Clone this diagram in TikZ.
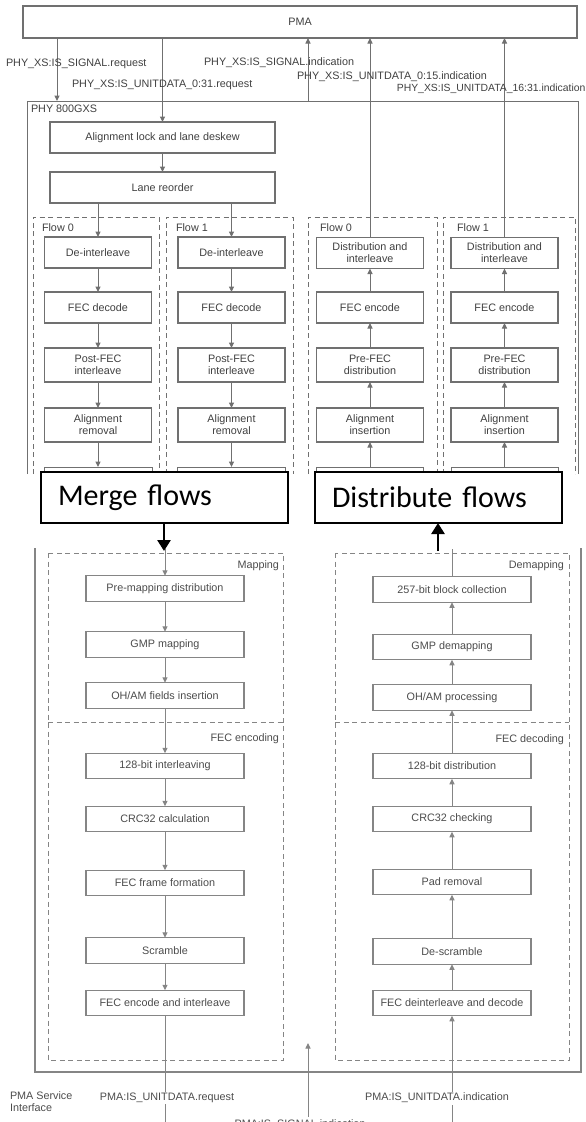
\documentclass[tikz,border=0pt]{standalone}
\usepackage{fontspec}
\setmainfont{Liberation Sans}
\newfontfamily\calibfont{Carlito}
\usetikzlibrary{arrows.meta}
\definecolor{ln}{HTML}{707070}
\definecolor{lnlow}{HTML}{858585}
\definecolor{tx}{HTML}{404040}
\definecolor{txlow}{HTML}{4C4C4C}
\begin{document}
\begin{tikzpicture}[x=1pt,y=-1pt,
  every node/.style={inner sep=0pt,outer sep=0pt},
  lbl/.style={font=\fontsize{10.8}{12}\selectfont,text=tx},
  lbllow/.style={font=\fontsize{10.8}{12}\selectfont,text=txlow},
  blk/.style={draw=ln,line width=1.2pt,fill=white,align=center,
    font=\fontsize{10.8}{12}\selectfont,text=tx},
  flowblk/.style={blk,minimum width=107pt,minimum height=31pt},
  tallblk/.style={blk,minimum width=107pt,minimum height=34pt},
  lowblk/.style={blk,draw=lnlow,text=txlow,minimum width=158pt,minimum height=25.5pt},
  conn/.style={draw=ln,line width=1pt,-{Triangle[length=5.5pt,width=5pt]}},
  connlow/.style={draw=lnlow,line width=1pt,-{Triangle[length=5.5pt,width=5pt]}},
  plain/.style={draw=ln,line width=1pt},
  plainlow/.style={draw=lnlow,line width=1.2pt},
  grp/.style={draw=ln,line width=1pt,dash pattern=on 5pt off 3.5pt},
  grplow/.style={draw=lnlow,line width=1pt,dash pattern=on 5pt off 3.5pt},
  bigbox/.style={draw=black,line width=1.6pt,fill=white,
    font=\calibfont\fontsize{30}{32}\selectfont,inner xsep=17pt,
    text width=213pt,align=left,minimum height=51pt},
  bigarrow/.style={draw=black,line width=2.6pt,-{Triangle[length=11pt,width=13pt]}}
]
\useasboundingbox (0,0) rectangle (586,1122);
\begin{scope}
\clip (0,0) rectangle (586,1122);

% ---------------- upper part: PMA and receive/transmit flows ----------------
\node[blk,minimum width=554pt,minimum height=32pt] (pma) at (300,22) {PMA};

% PHY 800GXS enclosure (continues below)
\draw[plain] (27,474) -- (27,101) -- (578,101) -- (578,474);
\node[lbl,anchor=west] (phyname) at (31,108.5) {PHY 800GXS};

\coordinate (sigreq) at (57,101);
\coordinate (sigind) at (308,101);
\draw[conn] (pma.south -| sigreq) -- (sigreq);

\node[blk,minimum width=225pt,minimum height=31pt] (alock) at (162.5,137.5) {Alignment lock and lane deskew};
\node[blk,minimum width=225pt,minimum height=31pt] (lane) at (162.5,187.5) {Lane reorder};
\draw[conn] (pma.south -| alock) -- (alock);
\draw[conn] (alock) -- (lane);

% flow groups
\draw[grp] (33,474) |- (159,217) -- (159,474);
\draw[grp] (166,474) |- (293,217) -- (293,474);
\draw[grp] (308,474) |- (437,217) -- (437,474);
\draw[grp] (443,474) |- (575,217) -- (575,474);
\node[lbl,anchor=west] (lf0) at (42,228) {Flow 0};
\node[lbl,anchor=west] (lf1) at (176,228) {Flow 1};
\node[lbl,anchor=west] (rf0) at (320,228) {Flow 0};
\node[lbl,anchor=west] (rf1) at (457,228) {Flow 1};

% receive direction, flows 0 and 1
\foreach \n/\cx in {la/98,lb/231.5}{
  \node[flowblk] (\n1) at (\cx,252.5) {De-interleave};
  \node[flowblk] (\n2) at (\cx,307.5) {FEC decode};
  \node[tallblk] (\n3) at (\cx,365) {Post-FEC\\interleave};
  \node[tallblk] (\n4) at (\cx,425) {Alignment\\removal};
  \coordinate (\n5) at (\cx,467);
  \draw[plain] (\cx-54,474) |- (\cx+54,467) -- (\cx+54,474);
  \draw[conn] (lane.south -| \n1) -- (\n1);
  \draw[conn] (\n1) -- (\n2);
  \draw[conn] (\n2) -- (\n3);
  \draw[conn] (\n3) -- (\n4);
  \draw[conn] (\n4) -- (\n5);
}

% transmit direction, flows 0 and 1
\foreach \n/\cx in {ra/370,rb/504.5}{
  \node[flowblk] (\n1) at (\cx,253) {Distribution and\\interleave};
  \node[flowblk] (\n2) at (\cx,307.5) {FEC encode};
  \node[tallblk] (\n3) at (\cx,365) {Pre-FEC\\distribution};
  \node[tallblk] (\n4) at (\cx,425) {Alignment\\insertion};
  \coordinate (\n5) at (\cx,467);
  \draw[plain] (\cx-53.5,474) |- (\cx+53.5,467) -- (\cx+53.5,474);
  \draw[conn] (\n1) -- (pma.south -| \n1);
  \draw[conn] (\n2) -- (\n1);
  \draw[conn] (\n3) -- (\n2);
  \draw[conn] (\n4) -- (\n3);
  \draw[conn] (\n5) -- (\n4);
}
\draw[conn] (sigind) -- (pma.south -| sigind);

% service primitive names
\node[lbl,anchor=west] (t1) at (6,64) {PHY\_XS:IS\_SIGNAL.request};
\node[lbl,anchor=west] (t2) at (72,85) {PHY\_XS:IS\_UNITDATA\_0:31.request};
\node[lbl,anchor=west] (t3) at (204,63) {PHY\_XS:IS\_SIGNAL.indication};
\node[lbl,anchor=west] (t4) at (297,76.5) {PHY\_XS:IS\_UNITDATA\_0:15.indication};
\node[lbl,anchor=east,font=\fontsize{10.4}{12}\selectfont] (t5) at (585.5,89) {PHY\_XS:IS\_UNITDATA\_16:31.indication};

% ---------------- lower part: mapping and FEC ----------------
\draw[plainlow] (35,548) -- (35,1072) -- (581,1072) -- (581,548);
\draw[grplow] (48,553) rectangle (283,1060);
\draw[grplow] (48,722) -- (283,722);
\draw[grplow] (335,553) rectangle (569,1060);
\draw[grplow] (335,722) -- (569,722);
\node[lbllow,anchor=east] (gmap) at (279,566) {Mapping};
\node[lbllow,anchor=east] (gfece) at (279,739) {FEC encoding};
\node[lbllow,anchor=east] (gdemap) at (564,566) {Demapping};
\node[lbllow,anchor=east] (gfecd) at (564,740) {FEC decoding};

% transmit chain
\node[lowblk] (m1) at (165,588.5) {Pre-mapping distribution};
\node[lowblk] (m2) at (165,644.5) {GMP mapping};
\node[lowblk] (m3) at (165,695.5) {OH/AM fields insertion};
\node[lowblk] (m4) at (165,766) {128-bit interleaving};
\node[lowblk] (m5) at (165,819) {CRC32 calculation};
\node[lowblk] (m6) at (165,883) {FEC frame formation};
\node[lowblk] (m7) at (165,950.5) {Scramble};
\node[lowblk] (m8) at (165,1003) {FEC encode and interleave};
\coordinate (mtop) at (165,549);
\coordinate (mbot) at (165,1122);
\draw[connlow] (mtop) -- (m1);
\draw[connlow] (m1) -- (m2);
\draw[connlow] (m2) -- (m3);
\draw[connlow] (m3) -- (m4);
\draw[connlow] (m4) -- (m5);
\draw[connlow] (m5) -- (m6);
\draw[connlow] (m6) -- (m7);
\draw[connlow] (m7) -- (m8);
\draw[plainlow,line width=1pt] (m8) -- (mbot);

% receive chain
\node[lowblk] (d1) at (452,589.5) {257-bit block collection};
\node[lowblk] (d2) at (452,647) {GMP demapping};
\node[lowblk] (d3) at (452,697.5) {OH/AM processing};
\node[lowblk] (d4) at (452,766) {128-bit distribution};
\node[lowblk] (d5) at (452,819) {CRC32 checking};
\node[lowblk] (d6) at (452,882) {Pad removal};
\node[lowblk] (d7) at (452,951.5) {De-scramble};
\node[lowblk] (d8) at (452,1003) {FEC deinterleave and decode};
\coordinate (dtop) at (452,549);
\coordinate (dbot) at (452,1122);
\draw[plainlow,line width=1pt] (d1) -- (dtop);
\draw[connlow] (d2) -- (d1);
\draw[connlow] (d3) -- (d2);
\draw[connlow] (d4) -- (d3);
\draw[connlow] (d5) -- (d4);
\draw[connlow] (d6) -- (d5);
\draw[connlow] (d7) -- (d6);
\draw[connlow] (d8) -- (d7);
\draw[connlow] (dbot) -- (d8);

% signal indication from the PMA
\coordinate (sbot) at (308,1117);
\coordinate (stop) at (308,1043);
\draw[connlow] (sbot) -- (stop);

% PMA service interface names
\node[lbllow,align=left,anchor=west] (psi) at (10,1101.5) {PMA Service\\Interface};
\node[lbllow,fill=white,inner sep=1.5pt] (preq) at (167,1098) {PMA:IS\_UNITDATA.request};
\node[lbllow,fill=white,inner sep=1.5pt] (pind) at (437,1098) {PMA:IS\_UNITDATA.indication};
\node[lbllow] (psig) at (300,1125) {PMA:IS\_SIGNAL.indication};

% ---------------- overlaid flow boxes ----------------
\node[bigbox,anchor=north west] (merge) at (41,472) {Merge flows};
\node[bigbox,anchor=north west] (distr) at (315,472) {Distribute flows};
\coordinate (mergeout) at (164,551);
\coordinate (distrin) at (438,551);
\draw[bigarrow] (merge.south -| mergeout) -- (mergeout);
\draw[bigarrow] (distrin) -- (distr.south -| distrin);
\end{scope}
\end{tikzpicture}
\end{document}
